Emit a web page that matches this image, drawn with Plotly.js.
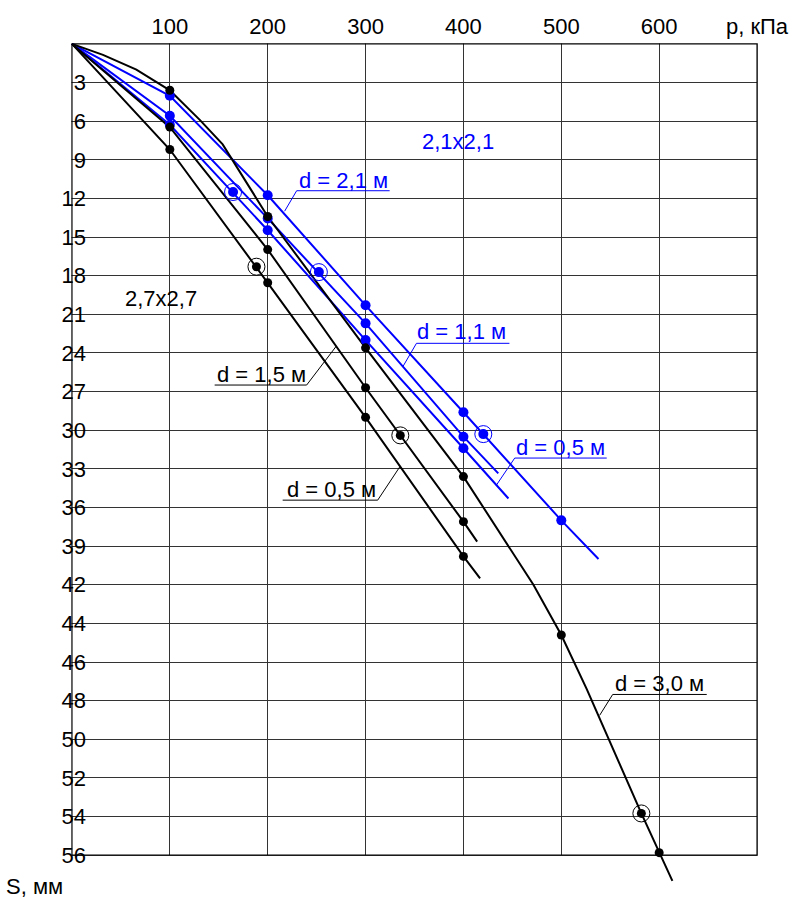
<!DOCTYPE html>
<html><head><meta charset="utf-8">
<script src="https://cdn.plot.ly/plotly-3.0.1.min.js"></script>
<style>html,body{margin:0;padding:0;background:#fff}#chart{width:793px;height:899px}</style>
</head><body><div id="chart"></div>
<script>
// Settlement tick labels (mm): evenly spaced grid rows, uneven values
const sTicks = [0,3,6,9,12,15,18,21,24,27,30,33,36,39,42,44,46,48,50,52,54,56];
// Pressure ticks (kPa)
const pTicks = [100,200,300,400,500,600,700];
const pTickText = ['100','200','300','400','500','600','р, кПа'];

// ---- 2,7x2,7 plate (black) ----
const b05_lineP = [0,100,200,300,400,417];
const b05_lineS = [0,8.2,18.55,29.0,39.8,41.5];
const b05_ptP = [100,200,300,400];
const b05_ptS = [8.2,18.55,29.0,39.8];
const b05_cP = [188.5], b05_cS = [17.3];

const b15_lineP = [0,100,200,300,400,414];
const b15_lineS = [0,6.46,15.97,26.7,37.1,38.65];
const b15_ptP = [100,200,300,400];
const b15_ptS = [6.46,15.97,26.7,37.1];
const b15_cP = [335.5], b15_cS = [30.4];

const b30_lineP = [0,31.7,65.8,100,130.6,154,200,300,400,471.5,500,526,581.8,600,613.5];
const b30_lineS = [0,0.85,2.0,3.6,5.9,7.8,13.4,23.6,33.6,42.0,44.6,47.4,53.84,55.87,57.33];
const b30_ptP = [100,200,300,400,500,600];
const b30_ptS = [3.6,13.4,23.6,33.6,44.6,55.87];
const b30_cP = [581.8], b30_cS = [53.84];

// ---- 2,1x2,1 plate (blue) ----
const u21_lineP = [0,100,200,300,400,500,538];
const u21_lineS = [0,4.03,11.75,20.3,28.6,37.0,40.0];
const u21_ptP = [100,200,300,400,500];
const u21_ptS = [4.03,11.75,20.3,28.6,37.0];
const u21_cP = [420.3], u21_cS = [30.3];

const u11_lineP = [0,100,200,300,400,435.6];
const u11_lineS = [0,5.58,13.55,21.7,30.5,33.35];
const u11_ptP = [100,200,300,400];
const u11_ptS = [5.58,13.55,21.7,30.5];
const u11_cP = [252.3], u11_cS = [17.72];

const u05_lineP = [0,100,200,300,400,446];
const u05_lineS = [0,6.28,14.47,23.0,31.4,35.3];
const u05_ptP = [100,200,300,400];
const u05_ptS = [6.28,14.47,23.0,31.4];
const u05_cP = [164.6], u05_cS = [11.5];

// map settlement value -> grid row position (piecewise linear along tick list)
function sToRow(s){
  for(let i=1;i<sTicks.length;i++){
    if(s<=sTicks[i]) return (i-1)+(s-sTicks[i-1])/(sTicks[i]-sTicks[i-1]);
  }
  const n=sTicks.length-1;
  return n+(s-sTicks[n])/(sTicks[n]-sTicks[n-1]);
}
const rows = a => a.map(sToRow);

const BLACK='#000000', BLUE='#0000ff';
const FONT='Liberation Sans, Arial, sans-serif';
const FS=22;

function curve(lp,ls,pp,ps,cp,cs,color,dotSize){
  return [
    {x:lp,y:rows(ls),mode:'lines',line:{color:color,width:2},hoverinfo:'skip'},
    {x:pp,y:rows(ps),mode:'markers',marker:{color:color,size:dotSize},hoverinfo:'skip'},
    {x:cp,y:rows(cs),mode:'markers',marker:{color:color,size:dotSize}, hoverinfo:'skip'},
    {x:cp,y:rows(cs),mode:'markers',marker:{symbol:'circle-open',color:color,size:17,line:{width:1,color:color}},hoverinfo:'skip'}
  ];
}

const blue = [
  curve(u21_lineP,u21_lineS,u21_ptP,u21_ptS,u21_cP,u21_cS,BLUE,10),
  curve(u11_lineP,u11_lineS,u11_ptP,u11_ptS,u11_cP,u11_cS,BLUE,10),
  curve(u05_lineP,u05_lineS,u05_ptP,u05_ptS,u05_cP,u05_cS,BLUE,10)
];
const black = [
  curve(b05_lineP,b05_lineS,b05_ptP,b05_ptS,b05_cP,b05_cS,BLACK,9),
  curve(b15_lineP,b15_lineS,b15_ptP,b15_ptS,b15_cP,b15_cS,BLACK,9),
  curve(b30_lineP,b30_lineS,b30_ptP,b30_ptS,b30_cP,b30_cS,BLACK,9)
];
const traces = [];
blue.forEach(c=>traces.push(c[0]));
black.forEach(c=>traces.push(c[0]));
blue.forEach(c=>traces.push(c[1],c[2],c[3]));
black.forEach(c=>traces.push(c[1],c[2],c[3]));

const rowTicks = sTicks.map((s,i)=>i).slice(1);
const rowText = sTicks.slice(1).map(String);

function lbl(text,p,row,color){
  return {text:text,x:p,y:row,xref:'x',yref:'y',showarrow:false,
    font:{family:FONT,size:FS,color:color},xanchor:'center',yanchor:'middle'};
}
function leader(pts,color){
  let d='M '+pts.map(q=>q[0]+','+q[1]).join(' L ');
  return {type:'path',xref:'x',yref:'y',path:d,line:{color:color,width:1},layer:'above'};
}

const annotations = [
  lbl('d = 2,1 м',277,3.54,BLUE),
  lbl('d = 1,1 м',398,7.44,BLUE),
  lbl('d = 0,5 м',499,10.44,BLUE),
  lbl('2,1x2,1',394,2.52,BLUE),
  lbl('d = 1,5 м',194,8.57,BLACK),
  lbl('d = 0,5 м',265,11.54,BLACK),
  lbl('d = 3,0 м',600,16.56,BLACK),
  lbl('2,7x2,7',91,6.58,BLACK),
  {text:'S, мм',xref:'paper',yref:'paper',x:(4-70)/689,y:0.0016,xanchor:'left',yanchor:'middle',
   showarrow:false,font:{family:FONT,size:FS,color:BLACK}}
];

const W='#ffffff';
const shapes = [
  // hide grid outside the chart frame
  {type:'rect',xref:'x',yref:'y',x0:-3,x1:703,y0:21.015,y1:22,fillcolor:W,line:{width:0},layer:'between'},
  {type:'rect',xref:'x',yref:'y',x0:-3,x1:703,y0:-0.2,y1:-0.012,fillcolor:W,line:{width:0},layer:'between'},
  {type:'rect',xref:'x',yref:'y',x0:-3,x1:-0.5,y0:-0.2,y1:22,fillcolor:W,line:{width:0},layer:'between'},
  {type:'rect',xref:'x',yref:'y',x0:700.5,x1:703,y0:-0.2,y1:22,fillcolor:W,line:{width:0},layer:'between'},
  {type:'rect',xref:'x',yref:'y',x0:0,x1:700,y0:0,y1:21,line:{color:'#000',width:1.2},layer:'between'},
  leader([[217.3,4.33],[229.6,3.80],[324.6,3.80]],BLUE),
  leader([[338.2,8.35],[352,7.75],[447,7.75]],BLUE),
  leader([[433.7,11.42],[452.4,10.72],[546.4,10.72]],BLUE),
  leader([[145.8,8.83],[239.8,8.83],[270.2,7.82]],BLACK),
  leader([[215.3,11.81],[312.4,11.81],[334.9,10.95]],BLACK),
  leader([[539.2,17.38],[552.5,16.84],[648.6,16.84]],BLACK)
];

const layout = {
  width:793,height:899,
  margin:{l:70,r:34,t:42,b:11,pad:0},
  paper_bgcolor:'#fff',plot_bgcolor:'#fff',
  showlegend:false,
  xaxis:{range:[-2,702],side:'top',tickvals:pTicks,ticktext:pTickText,showgrid:true,gridcolor:'#333',gridwidth:1,
    zeroline:false,showline:false,ticks:'',ticklabelstandoff:3,tickfont:{family:FONT,size:FS,color:'#000'},fixedrange:true},
  yaxis:{range:[21.85,-0.05],tickvals:rowTicks,ticktext:rowText,showgrid:true,gridcolor:'#333',gridwidth:1,
    zeroline:false,showline:false,ticks:'',ticklabelstandoff:-17,tickfont:{family:FONT,size:FS,color:'#000'},fixedrange:true},
  annotations:annotations,
  shapes:shapes
};

Plotly.newPlot('chart',traces,layout,{staticPlot:true,displayModeBar:false});
</script></body></html>
